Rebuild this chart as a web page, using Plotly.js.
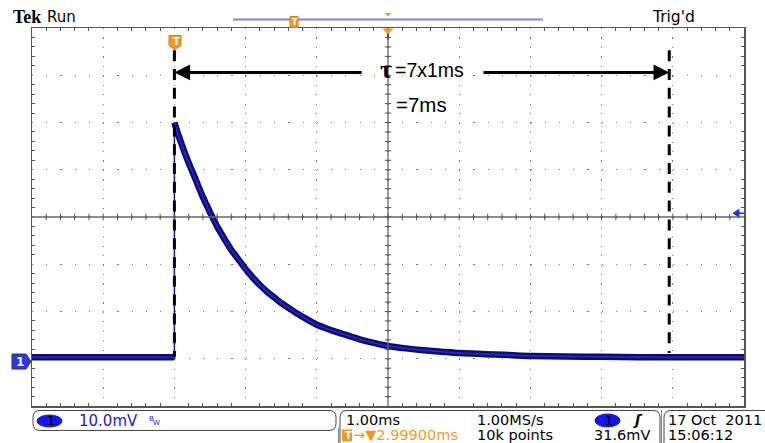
<!DOCTYPE html>
<html><head><meta charset="utf-8">
<script src="https://cdn.plot.ly/plotly-3.0.1.min.js"></script>
<style>html,body{margin:0;padding:0;background:#fff;overflow:hidden}#chart{width:765px;height:443px;}</style>
</head><body><div id="chart"></div>
<script>
// CH1 capture: time in ms relative to trigger, voltage in mV relative to channel ground
const timeMs = [-2, -1, 0, 0, 0.05, 0.1, 0.15, 0.2, 0.25, 0.3, 0.35, 0.4, 0.45, 0.5, 0.55, 0.6, 0.65, 0.7, 0.75, 0.8, 0.85, 0.9, 0.95, 1.0,
  1.1, 1.2, 1.3, 1.4, 1.5, 1.6, 1.7, 1.8, 1.9, 2.0, 2.1, 2.25, 2.4, 2.5, 2.6, 2.75, 2.9, 3.0, 3.25, 3.5, 3.75, 4.0, 4.25, 4.5, 4.75, 5.0, 5.5, 6.0, 7.0, 8.0];
const ch1mV  = [0.3, 0.3, 0.3, 50, 47.6, 45.5, 43.4, 41.5, 39.7, 37.9, 36, 34.2, 32.6, 31, 29.5, 28, 26.7, 25.4, 24.2, 23, 22, 21, 20, 19,
  17.2, 15.6, 14.2, 13, 11.8, 10.8, 9.8, 8.9, 8, 7.2, 6.6, 5.8, 5.1, 4.6, 4.1, 3.5, 3.0, 2.7, 2.2, 1.8, 1.5, 1.2, 1.05, 0.9, 0.75, 0.6, 0.5, 0.4, 0.3, 0.3];
const tauStart = 0, tauEnd = 6.95;           // ms, marked time constant span
const trigLevelMark = 30.8;                  // mV, trigger-level marker position
const tauLabel = 'τ', tauText = '=7x1ms', tauResult = '=7ms';
const headerLeft = ['Tek', 'Run'], headerRight = "Trig'd";
const statusCh = ['1', '10.0mV', 'B', 'W'];
const statusTime = ['1.00ms', '1.00MS/s', '1', '31.6mV', '10k points', '→▼2.99900ms'];
const statusDate = ['17 Oct  2011', '15:06:12'];

// plot area in pixels
const L = 32, R = 744, T = 27.5, B = 406;
const px = x => (x - L) / (R - L);
const py = y => (B - y) / (B - T);

const xr = [-2, 8], yr = [-10, 70];
const xc = 3, yc = 30;

const shapes = [];
shapes.push({type:'line', xref:'x', yref:'paper', x0:xc, x1:xc, y0:0, y1:1, line:{color:'#666', width:1.3}});
shapes.push({type:'line', xref:'paper', yref:'y', x0:0, x1:1, y0:yc, y1:yc, line:{color:'#666', width:1.3}});
for (let i = 1; i < 50; i++) {
  const x = xr[0] + i * 0.2;
  shapes.push({type:'line', xref:'x', yref:'y', x0:x, x1:x, y0:yc-0.7, y1:yc+0.7, line:{color:'#555', width:1}});
}
for (let i = 1; i < 40; i++) {
  const y = yr[0] + i * 2;
  shapes.push({type:'line', xref:'x', yref:'y', x0:xc-0.045, x1:xc+0.045, y0:y, y1:y, line:{color:'#555', width:1}});
}
shapes.push({type:'line', xref:'x', yref:'y', x0:tauStart, x1:tauStart, y0:65.3, y1:0.3, line:{color:'#000', width:3, dash:'11px,7.8px'}});
shapes.push({type:'line', xref:'x', yref:'y', x0:tauEnd, x1:tauEnd, y0:65.3, y1:1.2, line:{color:'#000', width:3, dash:'11px,7.8px'}});

function rrect(x0, y0, x1, y1, r) {
  const rx = r / (R - L), ry = r / (B - T);
  const X0 = px(x0), X1 = px(x1), Y0 = py(y0), Y1 = py(y1);
  return `M${X0+rx},${Y0} L${X1-rx},${Y0} Q${X1},${Y0} ${X1},${Y0-ry} L${X1},${Y1+ry} Q${X1},${Y1} ${X1-rx},${Y1} L${X0+rx},${Y1} Q${X0},${Y1} ${X0},${Y1+ry} L${X0},${Y0-ry} Q${X0},${Y0} ${X0+rx},${Y0} Z`;
}
function poly(pts) {
  return 'M' + pts.map(p => px(p[0]) + ',' + py(p[1])).join(' L') + ' Z';
}
shapes.push({type:'path', xref:'paper', yref:'paper', path:rrect(33, 410.5, 336, 430.5, 7), line:{color:'#444', width:1}, fillcolor:'#fff'});
shapes.push({type:'path', xref:'paper', yref:'paper', path:rrect(340, 410.5, 660, 452, 7), line:{color:'#444', width:1}, fillcolor:'#fff'});
shapes.push({type:'path', xref:'paper', yref:'paper', path:rrect(664, 410.5, 790, 452, 7), line:{color:'#444', width:1}, fillcolor:'#fff'});
shapes.push({type:'line', xref:'paper', yref:'paper', x0:px(338.5), x1:px(338.5), y0:py(428), y1:py(443), line:{color:'#888', width:1}});
shapes.push({type:'line', xref:'paper', yref:'paper', x0:px(661.5), x1:px(661.5), y0:py(410), y1:py(443), line:{color:'#888', width:1}});
shapes.push({type:'circle', xref:'paper', yref:'paper', x0:px(37), x1:px(62), y0:py(427), y1:py(415), fillcolor:'#1414f0', line:{color:'#1414f0', width:1}});
shapes.push({type:'circle', xref:'paper', yref:'paper', x0:px(595), x1:px(620), y0:py(427), y1:py(414), fillcolor:'#1414f0', line:{color:'#1414f0', width:1}});
shapes.push({type:'rect', xref:'paper', yref:'paper', x0:px(342), x1:px(352), y0:py(441.5), y1:py(429.5), fillcolor:'#f39a1e', line:{width:0}});
shapes.push({type:'path', xref:'paper', yref:'paper', path:poly([[12,354],[26,354],[31,361.5],[26,369],[12,369]]), fillcolor:'#2838f0', line:{color:'#333', width:1}});
shapes.push({type:'path', xref:'paper', yref:'y', path:`M${px(733)},${trigLevelMark} L${px(739)},${trigLevelMark+0.8} L${px(739)},${trigLevelMark-0.8} Z`, fillcolor:'#2030f0', line:{color:'#2030f0', width:1}});
shapes.push({type:'line', xref:'paper', yref:'y', x0:px(737), x1:px(744), y0:trigLevelMark, y1:trigLevelMark, line:{color:'#2030f0', width:1.5}});
shapes.push({type:'line', xref:'paper', yref:'paper', x0:px(233), x1:px(543), y0:py(19), y1:py(19), line:{color:'#8080ee', width:2}});
shapes.push({type:'rect', xref:'paper', yref:'paper', x0:px(290), x1:px(298), y0:py(27), y1:py(16), fillcolor:'#f39a1e', line:{color:'#e08000', width:1}});
shapes.push({type:'path', xref:'paper', yref:'paper', path:poly([[384.5,12.5],[391.5,12.5],[388,16]]), fillcolor:'#f39a1e', line:{width:0}});
shapes.push({type:'path', xref:'paper', yref:'paper', path:poly([[382.5,28],[393.5,28],[388,34]]), fillcolor:'#f39a1e', line:{width:0}});
shapes.push({type:'line', xref:'paper', yref:'paper', x0:px(388), x1:px(388), y0:py(33), y1:py(39), line:{color:'#555', width:2}});
shapes.push({type:'path', xref:'paper', yref:'paper', path:poly([[169,35],[181,35],[181,45],[175,49],[169,45]]), fillcolor:'#f39a1e', line:{color:'#d88000', width:1}});

const sf = 'DejaVu Sans, Verdana, sans-serif';
function txt(x, y, text, size, color, extra) {
  return Object.assign({xref:'paper', yref:'paper', x:px(x), y:py(y), text:text, showarrow:false,
    xanchor:'left', yanchor:'middle', font:{family:sf, size:size, color:color}, borderpad:0}, extra || {});
}
const annotations = [
  {xref:'x', yref:'y', axref:'x', ayref:'y', x:tauStart, y:60.6, ax:2.65, ay:60.6, text:'', showarrow:true, arrowhead:2, arrowsize:1.05, arrowwidth:3, arrowcolor:'#000'},
  {xref:'x', yref:'y', axref:'x', ayref:'y', x:tauEnd, y:60.6, ax:4.32, ay:60.6, text:'', showarrow:true, arrowhead:2, arrowsize:1.05, arrowwidth:3, arrowcolor:'#000'},
  txt(379, 69, '<b>' + tauLabel + '</b>', 24, '#000', {font:{family:'Liberation Serif, serif', size:26, color:'#000'}}),
  txt(394, 70, tauText, 19.5, '#000', {font:{family:'Liberation Sans, Arial, sans-serif', size:19.5, color:'#000'}}),
  txt(395, 104.5, tauResult, 20.5, '#000', {font:{family:'Liberation Sans, Arial, sans-serif', size:20.5, color:'#000'}}),
  txt(12, 16, '<b>' + headerLeft[0] + '</b>', 16, '#000', {font:{family:'Liberation Serif, serif', size:18, color:'#000'}}),
  txt(46, 16, headerLeft[1], 15, '#000'),
  txt(651, 16.5, headerRight, 15.5, '#000'),
  txt(171.5, 41.5, '<b>T</b>', 10, '#fff'),
  txt(291, 21.5, '<b>T</b>', 8, '#fff'),
  txt(15, 361.5, '<b>1</b>', 12, '#fff'),
  txt(45.5, 421, statusCh[0], 13, '#000'),
  txt(78, 421, statusCh[1], 15, '#1a1ad8'),
  txt(148, 419.5, statusCh[2], 7, '#1a1ad8'),
  txt(152, 423.5, statusCh[3], 7, '#1a1ad8'),
  txt(345, 420.5, statusTime[0], 14.5, '#000'),
  txt(476, 420.5, statusTime[1], 14.5, '#000'),
  txt(603.5, 420.5, statusTime[2], 13, '#000'),
  txt(632, 420.5, '<b><i>ʃ</i></b>', 14, '#000'),
  txt(593, 435.5, statusTime[3], 14.5, '#000'),
  txt(476, 435.5, statusTime[4], 14.5, '#000'),
  txt(343.5, 435.5, '<b>T</b>', 10, '#fff'),
  txt(352, 435.5, statusTime[5], 14.5, '#f39a1e'),
  txt(667, 420.5, statusDate[0], 14.5, '#000'),
  txt(667, 435.5, statusDate[1], 14.5, '#000')
];

// split the capture at the trigger edge so the fast edge is drawn thin, as on the scope
const stepIdx = ch1mV.indexOf(Math.max.apply(null, ch1mV));
const preT = timeMs.slice(0, stepIdx), preV = ch1mV.slice(0, stepIdx);
const postT = timeMs.slice(stepIdx), postV = ch1mV.slice(stepIdx);
const edgeT = timeMs.slice(stepIdx - 1, stepIdx + 1), edgeV = ch1mV.slice(stepIdx - 1, stepIdx + 1);

const band = {color:'#0c0c70', width:6.5}, core = {color:'#2626c8', width:1.8};
const bandS = Object.assign({shape:'spline', smoothing:0.7}, band), coreS = Object.assign({shape:'spline', smoothing:0.7}, core);
const traces = [
  {x: edgeT, y: edgeV, type:'scatter', mode:'lines', line:{color:'#1a1aa0', width:1.5}, hoverinfo:'skip'},
  {x: preT, y: preV, type:'scatter', mode:'lines', line:band, hoverinfo:'skip'},
  {x: postT, y: postV, type:'scatter', mode:'lines', line:bandS, hoverinfo:'skip'},
  {x: preT, y: preV, type:'scatter', mode:'lines', line:core, hoverinfo:'skip'},
  {x: postT, y: postV, type:'scatter', mode:'lines', line:coreS, hoverinfo:'skip'}
];

const axBase = {showticklabels:false, zeroline:false, showline:true, linecolor:'#555', linewidth:1.5,
  mirror:'allticks', ticks:'', fixedrange:true, gridcolor:'#777', gridwidth:1.2};
const layout = {
  width:765, height:443,
  margin:{l:L, r:765-R, t:T, b:443-B, pad:0},
  paper_bgcolor:'#fff', plot_bgcolor:'#fff', showlegend:false,
  xaxis: Object.assign({}, axBase, {range:xr, dtick:1, tick0:0, showgrid:true, griddash:'1.2px,8.26px',
    minor:{dtick:0.2, ticks:'inside', ticklen:3, tickcolor:'#555', showgrid:false}}),
  yaxis: Object.assign({}, axBase, {range:yr, dtick:10, tick0:0, showgrid:true, griddash:'1.2px,13.04px',
    minor:{dtick:2, ticks:'inside', ticklen:3, tickcolor:'#555', showgrid:false}}),
  shapes: shapes,
  annotations: annotations
};
Plotly.newPlot('chart', traces, layout, {staticPlot:true, displayModeBar:false});
</script></body></html>
